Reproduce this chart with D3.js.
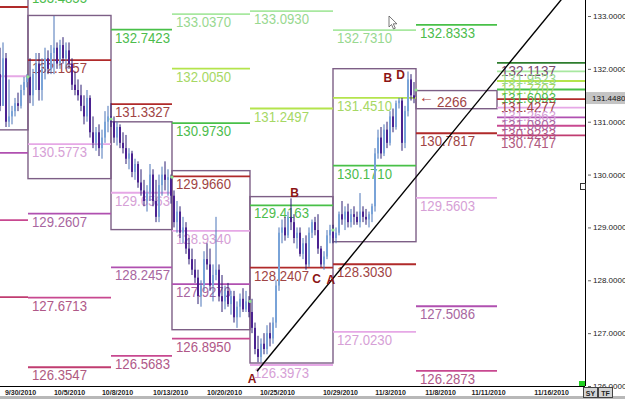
<!DOCTYPE html>
<html lang="en">
<head>
<meta charset="UTF-8">
<script src="https://cdn.jsdelivr.net/npm/d3@7"></script>
<title>Weekly pivots</title>
<style>
  body { margin: 0; background: #fff; }
  .lvl { font-family: "Liberation Sans", Arial, sans-serif; font-size: 15px; }
  .yax text { font-family: "Liberation Sans", Arial, sans-serif; font-size: 8px; fill: #222; }
  .xax text { font-family: "Liberation Sans", Arial, sans-serif; font-size: 7px; font-weight: bold; fill: #222; }
  .note { font-family: "Liberation Sans", Arial, sans-serif; font-size: 12px; font-weight: bold; fill: #8b1414; }
</style>
</head>
<body>
<div id="chart"></div>
<script>
// bars: [open, high, low, close], one per slot
const bars = [
  // end of week 9/27
  [131.9,132.4,131.2,131.3],[131.3,132.5,131.3,132.2],[132.2,132.3,130.9,131.0],[131.0,131.8,130.9,131.1],
  [131.1,131.3,130.95,131.2],[131.2,131.45,131.1,131.35],[131.35,131.55,131.2,131.3],[131.3,131.7,131.25,131.6],
  [131.6,131.85,131.5,131.75],[131.75,131.9,131.65,131.85],
  // week 10/4
  [131.85,132.2,131.35,131.5],[131.5,132.0,131.3,131.9],[131.9,132.3,131.6,132.1],[132.1,132.3,131.4,131.6],
  [131.6,132.2,131.4,132.0],[132.0,132.4,131.8,132.2],[132.2,132.35,131.9,132.0],[132.0,132.45,131.9,132.3],
  [132.3,133.0,131.9,132.4],[132.4,132.5,132.0,132.1],[132.1,132.55,132.0,132.45],[132.45,132.6,132.1,132.2],
  [132.2,132.5,132.0,132.35],[132.35,132.5,132.0,132.1],[132.1,132.2,131.6,131.7],[131.7,131.95,131.5,131.6],
  [131.6,131.8,131.4,131.5],[131.5,131.7,131.2,131.3],[131.3,131.5,130.95,131.1],[131.1,131.6,131.0,131.45],
  [131.45,131.5,130.7,130.8],[130.8,131.1,130.5,130.6],[130.6,130.9,130.45,130.8],[130.8,130.95,130.35,130.5],
  [130.5,130.85,130.3,130.7],[130.7,131.2,130.6,131.0],[131.0,131.3,130.8,131.1],
  // week 10/11
  [131.1,131.35,130.9,131.0],[131.0,131.1,130.6,130.7],[130.7,131.0,130.55,130.9],[130.9,130.95,130.5,130.6],[130.6,130.8,130.4,130.5],
  [130.5,130.75,130.2,130.3],[130.3,130.5,130.1,130.4],[130.4,130.45,129.95,130.05],[130.05,130.3,129.9,130.2],[130.2,130.25,129.75,129.85],
  [129.85,130.1,129.6,129.7],[129.7,129.9,129.4,129.5],[129.5,129.8,129.3,129.65],[129.65,130.2,129.5,130.0],[130.0,130.1,129.4,129.5],
  [129.5,129.9,129.1,129.2],[129.2,130.0,129.1,129.8],[129.8,130.15,129.6,130.0],[130.0,130.25,129.7,129.9],[129.9,130.1,129.6,129.95],
  // week 10/18
  [129.95,130.0,129.45,129.6],
  [129.6,129.7,129.0,129.1],[129.1,129.5,128.9,129.3],[129.3,129.4,128.8,128.9],[128.9,129.2,128.7,129.0],
  [129.0,129.1,128.5,128.6],[128.6,128.8,128.3,128.4],[128.4,128.6,128.1,128.2],[128.2,128.4,127.95,128.05],[128.05,128.2,127.55,127.7],
  [127.7,128.0,127.5,127.9],[127.9,128.55,127.8,128.4],[128.4,128.7,128.2,128.3],[128.3,128.6,127.8,127.9],
  [127.9,128.3,127.6,128.1],[128.1,129.2,128.0,128.2],[128.2,128.3,127.6,127.7],
  [127.7,128.1,127.4,127.6],[127.6,127.9,127.45,127.8],[127.8,127.95,127.5,127.55],[127.55,127.8,127.35,127.7],
  [127.7,127.8,127.2,127.3],[127.3,127.6,127.1,127.5],[127.5,127.75,127.3,127.65],[127.65,127.85,127.4,127.45],[127.45,127.8,127.4,127.6],
  // week 10/25
  [127.6,127.7,127.3,127.4],[127.4,127.65,127.0,127.1],[127.1,127.2,126.6,126.7],
  [126.7,126.95,126.45,126.55],[126.55,126.9,126.45,126.8],[126.8,127.0,126.6,126.7],
  [126.7,127.15,126.6,127.0],[127.0,127.2,126.75,126.9],[126.9,127.3,126.8,127.2],
  [127.2,128.0,127.1,127.9],[127.9,129.0,127.8,128.9],
  [128.9,129.15,128.7,129.0],[129.0,129.2,128.75,128.85],[128.85,129.3,128.8,129.2],[129.2,129.55,128.95,129.1],[129.1,129.25,128.7,128.8],
  [128.8,129.0,128.6,128.9],[128.9,129.0,128.45,128.5],[128.5,128.8,128.4,128.7],[128.7,128.85,128.2,128.3],
  [128.3,129.0,128.25,128.9],[128.9,129.15,128.8,129.1],[129.1,129.2,128.85,128.95],[128.95,129.25,128.5,128.6],
  [128.6,128.65,128.25,128.3],[128.3,128.55,128.2,128.45],
  [128.45,128.95,128.4,128.85],[128.85,129.05,128.7,128.95],
  // week 11/1
  [128.95,129.05,128.7,128.8],[128.8,129.0,128.7,128.9],
  [128.9,129.3,128.85,129.25],[129.25,129.5,129.05,129.15],[129.15,129.4,128.95,129.3],[129.3,129.45,129.0,129.1],
  [129.1,129.35,129.0,129.25],[129.25,129.4,129.05,129.2],[129.2,129.3,129.05,129.1],[129.1,129.65,129.0,129.3],
  [129.3,129.4,129.1,129.2],[129.2,129.35,129.05,129.15],[129.15,129.3,129.0,129.25],[129.25,129.45,129.1,129.4],
  [129.4,130.5,129.3,130.4],
  [130.4,130.85,130.3,130.7],[130.7,130.9,130.3,130.4],[130.4,130.95,130.35,130.85],[130.85,131.0,130.5,130.6],
  [130.6,131.2,130.55,131.1],[131.1,131.25,130.8,130.9],
  [130.9,131.4,130.85,131.35],
  [131.35,131.45,131.25,131.4],
  [131.4,131.45,130.45,130.6],[130.6,131.3,130.5,131.2],
  [131.2,131.95,131.1,131.8],[131.8,131.9,131.4,131.5],
  [131.5,131.75,131.35,131.45]
];

// week columns (slot boundaries)
const colBounds = [-60, 9.33, 37, 57.33, 83.33, 111, 138.67, 165.67, 195];
// weekly high/low boxes, one per column 0..6
const boxHighs = [133.7541, 133.0101, 130.998, 130.074, 129.583, 132.0031, 131.5891];
const boxLows  = [130.8459, 129.9231, 128.959, 127.065, 126.435, 128.730, 131.2461];
// week open marks
const weekOpens = [131.85, 131.05, 129.95, 127.6, 128.95, 131.6];

// pivot levels per column: [price, kind]
const levels = [
  [[133.17,'p'],[131.86,'s1'],[130.41,'s2'],[129.14,'s3'],[127.68,'s4']],
  [[133.4855,'r1'],[132.1657,'p'],[130.5773,'s1'],[129.2607,'s2'],[127.6713,'s3'],[126.3547,'s4']],
  [[132.7423,'r1'],[131.3327,'p'],[129.6563,'s1'],[128.2457,'s2'],[126.5683,'s3']],
  [[133.0370,'r3'],[132.0050,'r2'],[130.9730,'r1'],[129.9660,'p'],[128.9340,'s1'],[127.9270,'s2'],[126.8950,'s3']],
  [[133.0930,'r3'],[131.2497,'r2'],[129.4163,'r1'],[128.2407,'p'],[126.3973,'s1']],
  [[132.7310,'r3'],[131.4510,'r2'],[130.1710,'r1'],[128.3030,'p'],[127.0230,'s1']],
  [[132.8333,'r1'],[130.7817,'p'],[129.5603,'s1'],[127.5086,'s2'],[126.2873,'s3']],
  [[132.1137,'r4'],[131.9523,'r3'],[131.7707,'r2'],[131.6093,'r1'],[131.4277,'p'],[131.2663,'s1'],[131.0803,'s2'],[130.9233,'s3'],[130.7417,'s4']]
];

const yTicks = [126, 127, 128, 129, 130, 131, 132, 133];
const xTickSlots = [6.67, 23, 39, 56.67, 74.67, 92.33, 113.33, 130, 146.67, 162.67, 183.67];
const xTickLabels = ['9/30/2010','10/5/2010','10/8/2010','10/13/2010','10/20/2010','10/25/2010','10/29/2010','11/3/2010','11/8/2010','11/11/2010','11/16/2010'];

const notes = [
  {t: 'A', s: 84, p: 126.06}, {t: 'B', s: 98.2, p: 129.58},
  {t: 'C', s: 105.5, p: 127.95}, {t: 'A', s: 110.3, p: 127.93},
  {t: 'B', s: 129.3, p: 131.75}, {t: 'D', s: 133.5, p: 131.81}
];
const trendPoints = [[85.67, 126.28], [186.67, 133.28]];
const lastPrice = 131.4480;

// colours for each level kind: [line, text]
const kindColor = {
  r4: ['#2e7d2e', '#7a4a70'], r3: ['#a8e8a0', '#98d890'], r2: ['#b4e44c', '#a6d864'],
  r1: ['#48c048', '#4cbc4c'], p: ['#b02a2a', '#a04444'], s1: ['#e6a8e6', '#d6a0d6'],
  s2: ['#b050b0', '#a866a0'], s3: ['#c84890', '#b05888'], s4: ['#c03c70', '#b05a80']
};

const W = 625, H = 399, plotR = 585, plotB = 386;
const svg = d3.select('#chart').append('svg').attr('width', W).attr('height', H);
svg.append('rect').attr('width', W).attr('height', H).attr('fill', '#fff');

const x = d3.scaleLinear().domain([0, 195]).range([0, plotR]);
const y = d3.scaleLinear().domain([126, 133]).range([plotB, 16]);

svg.append('clipPath').attr('id', 'plot').append('rect')
  .attr('x', 0).attr('y', 0).attr('width', plotR).attr('height', plotB);
const g = svg.append('g').attr('clip-path', 'url(#plot)');

// weekly boxes
g.selectAll('.box').data(boxHighs).enter().append('rect')
  .attr('x', (d, i) => x(colBounds[i]))
  .attr('y', d => y(d))
  .attr('width', (d, i) => x(colBounds[i + 1]) - x(colBounds[i]))
  .attr('height', (d, i) => y(boxLows[i]) - y(d))
  .attr('fill', 'none').attr('stroke', '#7d5f86').attr('stroke-width', 1.4);

// pivot level lines and labels (first column starts off-screen, so no labels)
levels.forEach((col, ci) => {
  const x0 = x(colBounds[ci]), x1 = x(colBounds[ci + 1]);
  const lg = g.append('g');
  lg.selectAll('line').data(col).enter().append('line')
    .attr('x1', x0).attr('x2', x1)
    .attr('y1', d => y(d[0])).attr('y2', d => y(d[0]))
    .attr('stroke', d => kindColor[d[1]][0]).attr('stroke-width', 1.8);
  if (ci === 0) return;
  lg.selectAll('text').data(col).enter().append('text')
    .attr('class', 'lvl')
    .attr('x', x0 + 4).attr('y', d => y(d[0]) + 13)
    .attr('textLength', 55).attr('lengthAdjust', 'spacingAndGlyphs')
    .attr('fill', d => kindColor[d[1]][1])
    .text(d => d[0].toFixed(4));
});

// current-week marker
g.append('text').attr('class', 'lvl').attr('x', x(colBounds[6]) + 3).attr('y', y(lastPrice) + 4)
  .attr('fill', '#b04040').attr('font-size', 13).text('\u2190');
g.append('text').attr('class', 'lvl').attr('x', x(colBounds[6]) + 21).attr('y', y(lastPrice) + 9)
  .attr('textLength', 30).attr('lengthAdjust', 'spacingAndGlyphs')
  .attr('fill', '#a04444').text('2266');

// candles
const cg = g.append('g');
bars.forEach((b, i) => {
  const up = b[3] >= b[0];
  const cx = x(i);
  cg.append('line').attr('x1', cx).attr('x2', cx).attr('y1', y(b[1])).attr('y2', y(b[2]))
    .attr('stroke', up ? '#4b74b8' : '#2c1c72').attr('stroke-width', 1);
  cg.append('rect').attr('x', cx - 1).attr('width', 2)
    .attr('y', y(Math.max(b[0], b[3])))
    .attr('height', Math.max(1, Math.abs(y(b[0]) - y(b[3]))))
    .attr('fill', up ? '#79a3d8' : '#4b2290');
});

// week open dots
g.selectAll('.wo').data(weekOpens).enter().append('circle')
  .attr('cx', (d, i) => x(colBounds[i + 1])).attr('cy', d => y(d)).attr('r', 1.6)
  .attr('fill', '#8ee08e');

// trend line, extended to the top of the plot
const slope = (trendPoints[1][1] - trendPoints[0][1]) / (trendPoints[1][0] - trendPoints[0][0]);
const endSlot = trendPoints[0][0] + (133.6 - trendPoints[0][1]) / slope;
g.append('line')
  .attr('x1', x(trendPoints[0][0])).attr('y1', y(trendPoints[0][1]))
  .attr('x2', x(endSlot)).attr('y2', y(133.6))
  .attr('stroke', '#000').attr('stroke-width', 1.4);

// letter annotations
g.selectAll('.note').data(notes).enter().append('text')
  .attr('class', 'note').attr('text-anchor', 'middle')
  .attr('x', d => x(d.s)).attr('y', d => y(d.p)).text(d => d.t);

// axes frame
svg.append('line').attr('x1', plotR + 0.5).attr('x2', plotR + 0.5).attr('y1', 0).attr('y2', plotB)
  .attr('stroke', '#000');
svg.append('line').attr('x1', 0).attr('x2', plotR).attr('y1', plotB + 0.5).attr('y2', plotB + 0.5)
  .attr('stroke', '#000');

const yAxis = svg.append('g').attr('class', 'yax').attr('transform', `translate(${plotR + 2},0)`)
  .call(d3.axisRight(y).tickValues(yTicks).tickFormat(d3.format('.4f')).tickSize(3).tickPadding(3));
yAxis.select('.domain').remove();
yAxis.selectAll('line').attr('stroke', '#666').attr('transform', 'translate(1,0)');

const xAxis = svg.append('g').attr('class', 'xax').attr('transform', `translate(0,${plotB})`)
  .call(d3.axisBottom(x).tickValues(xTickSlots).tickFormat((d, i) => xTickLabels[i]).tickSize(0).tickPadding(4));
xAxis.select('.domain').remove();

// last price tag
svg.append('rect').attr('x', plotR + 1).attr('y', y(lastPrice) - 6).attr('width', W - plotR - 1).attr('height', 12)
  .attr('fill', '#c4c4c4');
svg.append('text').attr('x', plotR + 7).attr('y', y(lastPrice) + 3)
  .attr('font-family', 'Liberation Sans, Arial, sans-serif').attr('font-size', 8).attr('fill', '#111')
  .text(lastPrice.toFixed(4));

// small chrome bits
svg.append('rect').attr('x', 0).attr('y', 396).attr('width', W).attr('height', 3).attr('fill', '#b8b8b8');
svg.append('rect').attr('x', 579).attr('y', 381).attr('width', 6).attr('height', 5).attr('fill', '#22d022');
svg.append('rect').attr('x', 580.5).attr('y', 183.5).attr('width', 5).attr('height', 6)
  .attr('fill', '#fff').attr('stroke', '#333');
[['SY', 583], ['TF', 598]].forEach(([t, bx]) => {
  svg.append('rect').attr('x', bx + 0.5).attr('y', 387.5).attr('width', 14).attr('height', 10)
    .attr('fill', '#d4d4d4').attr('stroke', '#444');
  svg.append('text').attr('x', bx + 7.5).attr('y', 395.5).attr('text-anchor', 'middle')
    .attr('font-family', 'Liberation Sans, Arial, sans-serif').attr('font-size', 7).attr('font-weight', 'bold')
    .attr('fill', '#222').text(t);
});
// mouse pointer
svg.append('path').attr('d', 'M389,16 l0,11 l2.5,-2.5 l2,4.5 l1.8,-0.8 l-2,-4.4 l3.6,0 z')
  .attr('fill', '#fff').attr('stroke', '#555').attr('stroke-width', 0.8);
</script>
</body>
</html>
